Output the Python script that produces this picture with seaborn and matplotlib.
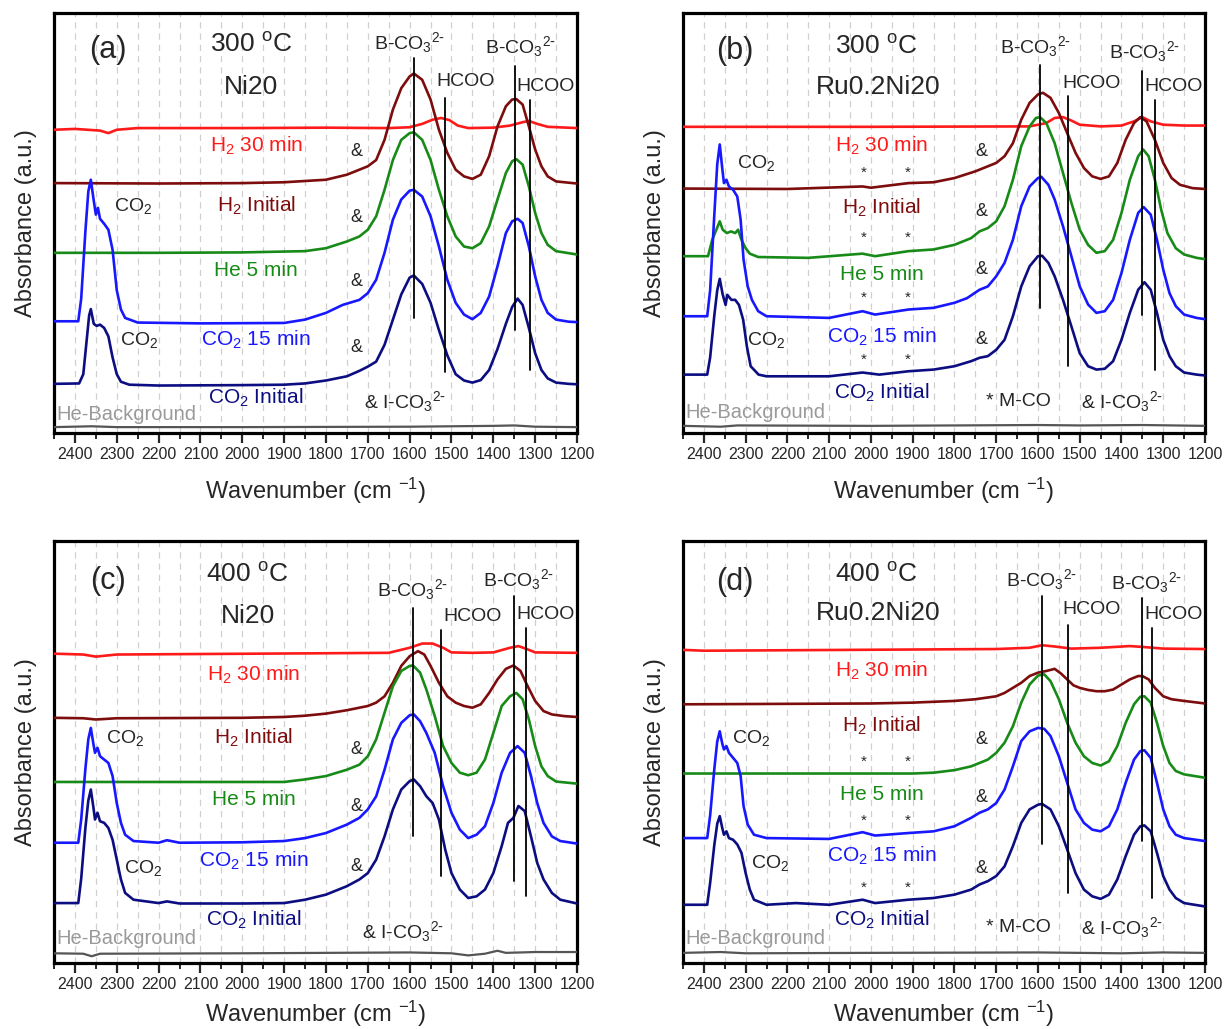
import matplotlib
matplotlib.use("Agg")
import matplotlib.pyplot as plt
import seaborn as sns
import pandas as pd
from matplotlib.ticker import MultipleLocator

sns.set_style("white")
plt.rcParams['font.family'] = ['Liberation Sans', 'DejaVu Sans']
plt.rcParams['mathtext.default'] = 'regular'

# ---------------- data: (wavenumber cm-1, absorbance a.u.) ----------------
# Panel (a) 300 C Ni20
a_h2_30 = [(2450,72.2),(2400,72.4),(2340,72.0),(2320,71.4),(2300,72.2),(2250,72.6),(2000,72.6),(1800,72.7),
           (1650,72.6),(1600,72.8),(1570,73.6),(1545,74.6),(1525,75.0),(1505,74.5),(1485,73.2),(1460,72.6),
           (1400,72.7),(1360,73.2),(1330,74.0),(1315,74.3),(1295,73.6),(1270,72.9),(1200,72.6)]
a_h2_init = [(2450,59.5),(2200,59.4),(2000,59.5),(1900,59.7),(1800,60.3),(1750,61.5),(1700,63.5),(1680,65.0),
             (1660,69.8),(1640,77.0),(1620,82.1),(1600,84.9),(1590,85.6),(1570,84.1),(1550,79.4),(1530,72.2),
             (1510,66.7),(1490,62.7),(1470,61.1),(1450,60.5),(1430,61.5),(1410,65.9),(1390,73.0),(1370,77.8),
             (1355,79.4),(1345,79.5),(1330,78.2),(1315,73.0),(1300,67.5),(1285,63.5),(1270,61.1),(1250,59.9),(1200,59.4)]
a_he_5 = [(2450,42.9),(2200,42.9),(2000,43.0),(1850,43.3),(1800,44.0),(1750,45.6),(1720,46.8),(1700,48.4),(1680,51.6),
          (1660,57.9),(1640,65.0),(1620,69.8),(1600,71.4),(1590,71.6),(1570,69.8),(1550,65.0),(1530,57.9),(1510,51.6),
          (1490,46.8),(1470,44.4),(1450,44.0),(1430,45.2),(1410,49.2),(1390,55.6),(1370,61.9),(1355,64.7),(1345,65.2),
          (1330,63.9),(1315,58.7),(1300,52.4),(1285,47.6),(1270,44.8),(1250,43.3),(1200,42.5)]
a_co2_15 = [(2450,26.6),(2392,26.6),(2385,32.0),(2375,48.0),(2368,57.5),(2362,60.3),(2356,56.0),(2350,52.0),(2345,53.6),
            (2340,51.0),(2330,49.8),(2320,48.4),(2310,43.6),(2300,34.0),(2290,29.4),(2280,27.4),(2250,26.3),(2100,26.1),
            (1900,26.2),(1850,27.0),(1800,28.6),(1760,30.5),(1720,31.7),(1700,33.3),(1680,36.5),(1660,42.9),(1640,50.8),
            (1620,55.6),(1600,57.7),(1590,57.9),(1570,56.3),(1550,51.6),(1530,44.4),(1510,36.5),(1490,31.0),(1470,28.2),
            (1450,27.1),(1430,28.6),(1410,32.5),(1390,39.7),(1370,47.6),(1355,50.4),(1342,51.0),(1330,50.0),(1315,44.4),
            (1300,37.3),(1285,31.7),(1270,28.6),(1250,27.0),(1220,26.5),(1200,26.4)]
a_co2_init = [(2450,11.7),(2390,11.8),(2380,14.0),(2372,22.0),(2366,28.0),(2362,29.5),(2355,26.0),(2348,25.5),(2340,25.8),
              (2330,25.0),(2320,23.0),(2310,18.0),(2300,14.0),(2290,12.2),(2270,11.5),(2200,11.3),(2000,11.4),
              (1900,11.5),(1850,11.8),(1800,12.5),(1750,13.5),(1720,14.8),(1700,15.8),(1680,17.0),(1660,21.0),
              (1640,27.0),(1620,33.0),(1600,37.0),(1590,37.5),(1570,35.5),(1550,31.0),(1530,24.5),(1510,18.5),
              (1490,14.0),(1470,12.5),(1450,12.0),(1430,12.6),(1410,15.0),(1390,20.0),(1370,26.0),(1355,30.0),
              (1342,32.0),(1330,30.5),(1315,25.0),(1300,19.0),(1285,15.0),(1270,13.0),(1250,12.0),(1220,11.7),(1200,11.6)]
a_bg = [(2450,1.4),(2360,1.6),(2300,1.4),(2000,1.4),(1600,1.5),(1500,1.6),(1400,1.7),(1350,1.8),(1300,1.5),(1200,1.4)]

# Panel (b) 300 C Ru0.2Ni20
b_h2_30 = [(2450,72.9),(2000,72.9),(1620,73.0),(1580,73.8),(1560,75.0),(1540,75.2),(1520,74.4),(1500,73.4),(1450,73.0),
           (1400,73.2),(1370,74.2),(1350,75.2),(1330,74.2),(1300,73.4),(1250,73.2),(1200,73.2)]
b_h2_init = [(2450,58.2),(2200,58.1),(2020,58.7),(2000,58.4),(1910,59.5),(1850,59.7),(1800,60.7),(1750,62.3),(1720,63.5),
             (1700,64.3),(1680,65.9),(1660,69.0),(1640,74.6),(1620,78.6),(1600,80.6),(1588,81.0),(1570,79.8),(1550,76.2),
             (1530,71.4),(1510,66.7),(1490,63.1),(1470,61.1),(1450,60.5),(1430,61.1),(1410,64.3),(1390,69.8),(1370,73.8),
             (1355,75.2),(1340,74.2),(1320,69.8),(1300,64.3),(1280,60.7),(1260,59.1),(1230,58.3),(1200,58.1)]
b_he_5 = [(2450,42.1),(2390,42.1),(2380,46.0),(2362,50.4),(2355,48.4),(2345,47.6),(2335,48.0),(2325,47.6),(2318,48.4),
          (2310,46.0),(2300,44.0),(2290,42.7),(2270,41.9),(2150,41.7),(2020,42.7),(1990,42.1),(1910,43.3),(1850,43.7),
          (1800,44.8),(1760,46.4),(1740,48.0),(1720,48.8),(1700,50.4),(1680,54.0),(1660,60.3),(1640,68.3),(1620,73.0),
          (1605,75.0),(1595,75.2),(1580,73.8),(1560,69.0),(1540,61.9),(1520,54.8),(1500,48.4),(1480,44.8),(1460,42.9),
          (1440,43.3),(1420,46.0),(1400,52.4),(1380,60.3),(1360,65.9),(1348,67.5),(1335,65.9),(1320,60.3),(1305,53.2),
          (1290,47.6),(1270,44.0),(1250,42.5),(1220,41.7),(1200,41.4)]
b_co2_15 = [(2450,27.8),(2392,27.8),(2385,34.0),(2375,52.0),(2368,64.0),(2362,68.7),(2356,63.0),(2352,59.5),(2346,60.3),
            (2340,58.7),(2330,57.9),(2320,56.3),(2312,50.8),(2305,41.3),(2295,34.9),(2285,31.7),(2270,29.0),(2250,27.8),
            (2100,27.4),(2020,29.0),(1990,28.2),(1910,29.4),(1850,29.8),(1800,31.0),(1770,32.1),(1740,34.1),(1720,34.9),
            (1700,37.3),(1680,40.5),(1660,46.0),(1640,54.0),(1620,58.7),(1600,60.7),(1592,61.0),(1575,59.1),(1560,55.6),
            (1540,49.2),(1520,42.1),(1500,34.9),(1480,30.6),(1460,28.6),(1440,29.0),(1420,31.7),(1400,38.1),(1380,46.0),
            (1360,52.4),(1347,53.8),(1330,52.0),(1315,46.0),(1300,38.9),(1285,33.3),(1270,30.2),(1250,28.2),(1220,27.4),(1200,27.1)]
b_co2_init = [(2450,13.9),(2392,13.9),(2385,18.0),(2375,28.0),(2368,34.0),(2362,36.7),(2355,33.0),(2348,30.5),(2344,32.9),
              (2334,31.7),(2325,31.7),(2316,30.5),(2306,27.0),(2297,20.6),(2288,15.9),(2269,13.9),(2250,13.5),(2100,13.5),
              (2020,14.4),(1980,13.9),(1910,14.7),(1850,15.1),(1800,15.9),(1760,17.1),(1740,17.9),(1720,18.3),(1700,19.8),
              (1680,22.2),(1660,27.8),(1640,34.9),(1620,39.7),(1600,42.1),(1590,42.2),(1575,40.5),(1560,37.3),(1540,31.7),
              (1520,25.4),(1500,19.0),(1480,15.9),(1460,15.1),(1440,15.3),(1420,17.1),(1400,22.2),(1380,28.6),(1360,34.1),
              (1345,35.9),(1330,34.1),(1315,28.6),(1300,22.2),(1285,18.3),(1270,15.9),(1250,14.4),(1220,13.9),(1200,13.7)]
b_bg = [(2450,1.7),(2360,1.5),(2320,1.8),(2000,1.7),(1600,1.9),(1500,1.8),(1350,1.9),(1200,1.7)]

# Panel (c) 400 C Ni20
c_h2_30 = [(2450,73.3),(2380,73.1),(2350,72.6),(2300,73.1),(1800,73.4),(1650,73.5),(1600,74.7),(1570,75.7),(1545,75.7),
           (1520,74.7),(1500,73.6),(1450,73.5),(1400,73.6),(1360,74.7),(1340,75.1),(1320,74.4),(1300,73.6),(1200,73.5)]
c_h2_init = [(2450,58.1),(2380,58.0),(2350,57.7),(2300,58.0),(2000,58.1),(1900,58.3),(1850,58.6),(1800,59.1),(1750,59.9),
             (1700,60.9),(1680,61.7),(1660,63.2),(1640,66.4),(1620,70.4),(1600,72.7),(1580,73.9),(1565,73.1),(1550,70.4),
             (1530,66.4),(1510,63.2),(1490,61.7),(1470,60.9),(1450,60.5),(1430,61.3),(1410,64.0),(1390,67.2),(1370,69.7),
             (1352,70.5),(1335,69.2),(1320,66.0),(1300,62.1),(1280,59.7),(1260,58.9),(1230,58.5),(1200,58.3)]
c_he_5 = [(2450,42.9),(2200,42.9),(1900,42.9),(1850,43.5),(1800,44.3),(1750,45.8),(1720,47.0),(1700,49.0),(1680,53.0),
          (1660,59.3),(1640,65.6),(1620,69.2),(1600,70.4),(1592,70.5),(1575,68.8),(1560,64.8),(1540,58.5),(1520,51.4),
          (1500,47.4),(1480,45.1),(1460,44.5),(1440,45.1),(1420,48.2),(1400,54.5),(1380,60.9),(1360,63.2),(1345,64.0),
          (1330,62.5),(1315,57.7),(1300,51.4),(1285,46.6),(1270,44.3),(1250,43.0),(1200,42.5)]
c_co2_15 = [(2450,28.5),(2392,28.5),(2385,34.0),(2375,46.0),(2368,53.0),(2362,55.7),(2356,52.0),(2352,49.8),(2346,51.0),
            (2340,49.0),(2330,48.2),(2320,47.4),(2310,44.3),(2300,37.9),(2290,33.2),(2280,30.4),(2260,28.9),(2200,28.5),
            (2180,29.1),(2150,28.5),(2000,28.6),(1900,28.9),(1850,29.6),(1800,30.8),(1750,32.8),(1720,34.4),(1700,36.4),
            (1680,39.5),(1660,45.8),(1640,53.0),(1620,56.9),(1600,58.7),(1590,58.9),(1575,57.3),(1560,54.5),(1540,49.8),
            (1520,41.9),(1500,35.6),(1480,31.6),(1460,29.6),(1440,30.4),(1420,32.4),(1400,37.9),(1380,45.1),(1360,49.8),
            (1342,51.4),(1325,49.8),(1310,44.3),(1295,37.9),(1280,33.2),(1260,30.0),(1240,28.9),(1200,28.3)]
c_co2_init = [(2450,14.2),(2392,14.2),(2385,20.0),(2375,32.0),(2368,38.5),(2362,41.1),(2356,37.0),(2352,34.0),(2346,35.6),
              (2340,33.6),(2330,33.2),(2320,32.0),(2310,29.2),(2300,24.5),(2290,19.8),(2280,16.6),(2260,15.0),(2200,14.2),
              (2180,14.6),(2150,14.1),(2000,14.1),(1900,14.2),(1850,15.0),(1800,16.2),(1750,18.2),(1720,19.8),(1700,21.3),
              (1680,24.5),(1660,30.0),(1640,36.4),(1620,41.1),(1600,43.1),(1590,43.5),(1575,41.9),(1560,39.5),(1545,37.9),
              (1530,34.0),(1515,26.9),(1500,21.3),(1480,17.4),(1460,15.4),(1440,15.8),(1420,17.4),(1400,21.3),(1380,27.7),
              (1365,33.2),(1352,34.4),(1340,37.2),(1325,36.0),(1310,30.0),(1295,23.7),(1280,19.8),(1260,16.6),(1240,15.0),(1200,14.1)]
c_bg = [(2450,2.3),(2380,2.2),(2360,1.6),(2340,2.2),(2000,2.3),(1800,2.4),(1600,2.5),(1500,2.3),(1460,1.8),(1420,2.2),
        (1390,2.9),(1370,2.4),(1300,2.6),(1200,2.6)]

# Panel (d) 400 C Ru0.2Ni20
d_h2_30 = [(2450,74.2),(2400,74.0),(1700,74.4),(1620,74.7),(1590,75.3),(1560,75.0),(1520,74.5),(1450,74.7),(1380,75.1),
           (1350,74.9),(1300,74.5),(1200,74.4)]
d_h2_init = [(2450,61.3),(2000,61.5),(1900,61.7),(1800,62.1),(1750,62.5),(1700,63.2),(1680,64.0),(1660,65.2),(1640,66.4),
             (1620,68.0),(1600,68.8),(1580,69.2),(1560,69.7),(1545,68.6),(1530,67.2),(1515,65.8),(1500,65.2),(1480,64.7),
             (1460,64.4),(1440,64.4),(1420,64.8),(1400,66.0),(1380,67.2),(1360,68.0),(1350,68.0),(1335,67.2),(1320,65.2),
             (1300,63.2),(1280,62.5),(1250,62.1),(1200,61.5)]
d_he_5 = [(2450,44.9),(2200,44.9),(1900,44.9),(1850,45.1),(1800,45.7),(1760,46.6),(1720,48.2),(1700,49.8),(1680,52.2),
          (1660,56.1),(1640,61.7),(1620,66.0),(1600,68.1),(1585,68.4),(1570,66.8),(1550,62.5),(1530,56.9),(1510,52.2),
          (1490,49.0),(1470,47.4),(1450,46.8),(1430,47.8),(1410,51.4),(1390,56.9),(1370,61.3),(1355,63.1),(1345,63.2),
          (1330,61.7),(1315,56.9),(1300,51.4),(1285,47.4),(1270,45.5),(1250,44.7),(1200,43.9)]
d_co2_15 = [(2450,29.6),(2392,29.6),(2385,35.0),(2375,46.0),(2368,52.5),(2362,54.9),(2356,52.0),(2352,50.6),(2346,51.4),
            (2340,49.8),(2330,48.6),(2320,47.4),(2312,44.3),(2305,37.2),(2295,32.8),(2280,30.4),(2250,29.6),(2100,29.4),
            (2020,31.0),(1990,30.2),(1910,30.8),(1850,31.2),(1800,32.4),(1760,34.4),(1740,35.6),(1720,36.4),(1700,37.9),
            (1680,41.1),(1660,46.6),(1640,52.6),(1620,54.9),(1600,55.7),(1585,55.5),(1570,53.8),(1550,49.0),(1530,42.7),
            (1510,36.4),(1490,33.2),(1470,31.6),(1450,31.2),(1430,32.4),(1410,36.4),(1390,42.7),(1370,48.2),(1355,50.2),
            (1345,50.4),(1330,48.6),(1315,42.7),(1300,36.4),(1285,32.4),(1270,30.4),(1250,29.6),(1200,28.9)]
d_co2_init = [(2450,13.8),(2392,13.8),(2385,19.0),(2375,28.0),(2368,33.0),(2362,34.8),(2356,32.0),(2352,30.4),(2346,31.2),
              (2340,29.6),(2330,29.2),(2320,28.1),(2310,26.1),(2300,21.3),(2290,17.4),(2280,15.0),(2250,13.8),(2180,14.2),
              (2100,13.8),(2020,15.0),(1990,14.2),(1910,15.0),(1850,15.4),(1800,16.2),(1760,17.4),(1740,18.6),(1720,19.4),
              (1700,20.6),(1680,22.9),(1660,27.7),(1640,33.2),(1620,36.4),(1600,37.5),(1590,37.7),(1570,36.4),(1550,32.4),
              (1530,26.9),(1510,21.3),(1490,17.4),(1470,15.8),(1450,15.2),(1430,16.2),(1410,19.8),(1390,25.3),(1370,30.4),
              (1355,32.4),(1345,32.6),(1330,31.2),(1315,26.1),(1300,20.6),(1285,17.4),(1270,15.4),(1250,14.2),(1200,13.4)]
d_bg = [(2450,2.4),(2360,2.6),(2300,2.3),(2000,2.4),(1600,2.5),(1400,2.3),(1300,2.5),(1200,2.4)]

series_names = ["H2 30 min", "H2 Initial", "He 5 min", "CO2 15 min", "CO2 Initial", "He-Background"]
series_labels = [r"H$_2$ 30 min", r"H$_2$ Initial", "He 5 min", r"CO$_2$ 15 min", r"CO$_2$ Initial", "He-Background"]
series_colors = ["#ff1a1a", "#7d0c0c", "#178a17", "#1818ff", "#0d0d82", "#555555"]

# Vertical reference lines: (wavenumber, y bottom, y top)
a_refs = [(1590, 27.4, 89.3), (1516, 14.5, 79.8), (1348, 24.6, 87.3), (1313, 15.0, 79.4)]
b_refs = [(1595, 29.8, 87.7), (1527, 15.9, 80.2), (1352, 28.2, 86.1), (1319, 15.1, 79.4)]
c_refs = [(1592, 30.0, 84.2), (1526, 20.6, 79.0), (1350, 19.4, 87.0), (1322, 15.8, 79.4)]
d_refs = [(1591, 28.1, 87.0), (1527, 16.6, 80.2), (1352, 28.9, 86.6), (1327, 15.4, 79.4)]

BCO = r"B-CO$_3$$^{2\text{-}}$"
ICO = r"& I-CO$_3$$^{2\text{-}}$"

panels = [
    dict(tag="(a)", temp="300", cat="Ni20", data=[a_h2_30, a_h2_init, a_he_5, a_co2_15, a_co2_init, a_bg], refs=a_refs,
         pos=[54/1225, 1-433/1029, 523/1225, 420/1029], xpad=10,
         tagxy=(2322, 91.3), tempxy=(1979, 92.5), catxy=(1979, 82.4),
         labx=1967, laby=[68.3, 54.0, 38.7, 22.2, 8.3], bgy=4.4,
         bco=[(1600, 92.9), (1336, 92.0)], hcoo=[(1466, 83.7), (1275, 82.5)],
         co2=[(2262, 54.0), (2247, 22.2)], amp=(1727, [67.0, 51.2, 36.1, 20.3]), stars=None,
         mco=None, ico=(1612, 7.5)),
    dict(tag="(b)", temp="300", cat="Ru0.2Ni20", data=[b_h2_30, b_h2_init, b_he_5, b_co2_15, b_co2_init, b_bg], refs=b_refs,
         pos=[683/1225, 1-433/1029, 522/1225, 420/1029], xpad=10,
         tagxy=(2325, 91.0), tempxy=(1988, 92.0), catxy=(1983, 82.4),
         labx=1974, laby=[68.3, 53.6, 37.7, 23.0, 9.5], bgy=4.8,
         bco=[(1606, 92.0), (1344, 90.9)], hcoo=[(1472, 83.3), (1275, 82.5)],
         co2=[(2276, 64.3), (2252, 22.2)], amp=(1736, [67.0, 52.8, 38.9, 22.2]),
         stars=([2018, 1911], [61.9, 46.4, 32.1, 17.5]), mco=(1646, 7.5), ico=(1400, 7.5)),
    dict(tag="(c)", temp="400", cat="Ni20", data=[c_h2_30, c_h2_init, c_he_5, c_co2_15, c_co2_init, c_bg], refs=c_refs,
         pos=[54/1225, 1-963/1029, 523/1225, 422/1029], xpad=5,
         tagxy=(2322, 90.5), tempxy=(1987, 92.1), catxy=(1987, 82.2),
         labx=1973, laby=[68.4, 53.4, 38.7, 24.1, 10.3], bgy=5.9,
         bco=[(1593, 88.5), (1339, 90.9)], hcoo=[(1449, 82.2), (1275, 82.6)],
         co2=[(2279, 53.4), (2237, 22.5)], amp=(1727, [50.6, 37.2, 22.9]), stars=None,
         mco=None, ico=(1617, 7.5)),
    dict(tag="(d)", temp="400", cat="Ru0.2Ni20", data=[d_h2_30, d_h2_init, d_he_5, d_co2_15, d_co2_init, d_bg], refs=d_refs,
         pos=[683/1225, 1-963/1029, 522/1225, 422/1029], xpad=5,
         tagxy=(2325, 90.2), tempxy=(1988, 92.1), catxy=(1983, 83.0),
         labx=1974, laby=[69.2, 56.1, 39.9, 25.3, 10.3], bgy=5.9,
         bco=[(1592, 90.9), (1339, 90.1)], hcoo=[(1472, 83.8), (1275, 82.6)],
         co2=[(2288, 53.4), (2241, 23.7)], amp=(1736, [53.0, 39.1, 22.3]),
         stars=([2018, 1911], [47.8, 33.6, 17.8]), mco=(1646, 8.3), ico=(1400, 8.3)),
]

fig = plt.figure(figsize=(12.25, 10.29), dpi=100)

for p in panels:
    ax = fig.add_axes(p["pos"])
    for name, col, pts in zip(series_names, series_colors, p["data"]):
        df = pd.DataFrame(pts, columns=["wn", "abs"])
        sns.lineplot(data=df, x="wn", y="abs", ax=ax, color=col, lw=1.9 if name != "He-Background" else 1.6,
                     sort=False, estimator=None, zorder=3)
    for (w, y0, y1) in p["refs"]:
        ax.plot([w, w], [y0, y1], color="black", lw=1.3, zorder=5)

    ax.set_xlim(2450, 1200)
    ax.set_ylim(0, 100)
    ax.set_yticks([])
    ax.xaxis.set_major_locator(MultipleLocator(100))
    ax.xaxis.set_minor_locator(MultipleLocator(50))
    ax.tick_params(axis="x", which="major", direction="out", length=7, width=1.6, labelsize=11.5, pad=3, bottom=True)
    ax.tick_params(axis="x", which="minor", direction="out", length=4, width=1.4, bottom=True)
    ax.grid(axis="x", which="both", color="#d0d0d0", lw=0.9, linestyle=(0, (5, 4)))
    ax.grid(axis="y", visible=False)
    for s in ax.spines.values():
        s.set_linewidth(2.3)
        s.set_color("black")
    ax.set_xlabel(r"Wavenumber (cm $^{-1}$)", fontsize=17, labelpad=p["xpad"])
    ax.set_ylabel("Absorbance (a.u.)", fontsize=17, labelpad=12)

    ax.text(*p["tagxy"], p["tag"], fontsize=22, ha="center", va="center")
    ax.text(*p["tempxy"], p["temp"] + r" $^{o}$C", fontsize=19, ha="center", va="center")
    ax.text(*p["catxy"], p["cat"], fontsize=19, ha="center", va="center")

    for lab, col, y in zip(series_labels[:5], series_colors[:5], p["laby"]):
        ax.text(p["labx"], y, lab, color=col, fontsize=15, ha="center", va="center")
    ax.text(2444, p["bgy"], "He-Background", color="#9a9a9a", fontsize=14.5, ha="left", va="center")

    for (w, y) in p["bco"]:
        ax.text(w, y, BCO, fontsize=14, ha="center", va="center")
    for (w, y) in p["hcoo"]:
        ax.text(w, y, "HCOO", fontsize=14, ha="center", va="center")
    for (w, y) in p["co2"]:
        ax.text(w, y, r"CO$_2$", fontsize=14, ha="center", va="center")
    aw, ays = p["amp"]
    for y in ays:
        ax.text(aw, y, "&", fontsize=13, ha="center", va="center")
    if p["stars"] is not None:
        sws, sys_ = p["stars"]
        for y in sys_:
            for w in sws:
                ax.text(w, y, "*", fontsize=11, ha="center", va="center")
    if p["mco"] is not None:
        ax.text(*p["mco"], "* M-CO", fontsize=14, ha="center", va="center")
    ax.text(*p["ico"], ICO, fontsize=14, ha="center", va="center")

fig.savefig("out.png", dpi=100)
